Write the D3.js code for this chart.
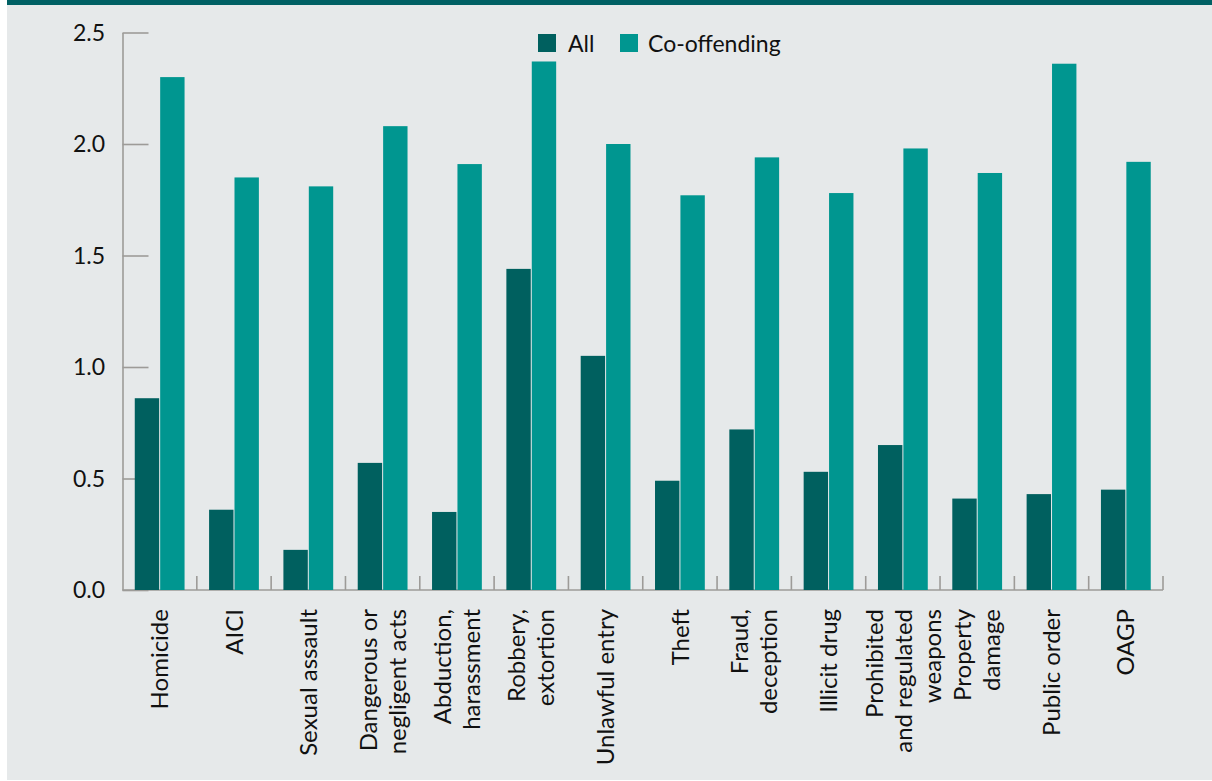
<!DOCTYPE html>
<html>
<head>
<meta charset="utf-8">
<script src="https://cdn.jsdelivr.net/npm/d3@7"></script>
<style>
  body { margin: 0; background: #ffffff; }
  text { font-family: Lato, "Open Sans", sans-serif; fill: #111; }
</style>
</head>
<body>
<div id="chart"></div>
<script>
var width = 1212;
var height = 781;

var categories = [
  ["Homicide"],
  ["AICI"],
  ["Sexual assault"],
  ["Dangerous or", "negligent acts"],
  ["Abduction,", "harassment"],
  ["Robbery,", "extortion"],
  ["Unlawful entry"],
  ["Theft"],
  ["Fraud,", "deception"],
  ["Illicit drug"],
  ["Prohibited", "and regulated", "weapons"],
  ["Property", "damage"],
  ["Public order"],
  ["OAGP"]
];
var seriesNames = ["All", "Co-offending"];
var allValues = [0.86, 0.36, 0.18, 0.57, 0.35, 1.44, 1.05, 0.49, 0.72, 0.53, 0.65, 0.41, 0.43, 0.45];
var coValues = [2.30, 1.85, 1.81, 2.08, 1.91, 2.37, 2.00, 1.77, 1.94, 1.78, 1.98, 1.87, 2.36, 1.92];
var yTicks = [0, 0.5, 1.0, 1.5, 2.0, 2.5];

var colors = {"All": "#00605f", "Co-offending": "#009690"};

var margin = {top: 32.5, right: 49, bottom: 191, left: 122.5};

var svg = d3.select("#chart")
  .append("svg")
  .attr("width", width)
  .attr("height", height);

// panel background + top band
svg.append("rect")
  .attr("x", 7).attr("y", 0)
  .attr("width", width - 7).attr("height", 780)
  .attr("fill", "#e6e9ea");
svg.append("rect")
  .attr("x", 7).attr("y", 0)
  .attr("width", width - 7).attr("height", 5)
  .attr("fill", "#006064");

var keys = categories.map(function(c) { return c.join(" "); });

var x0 = d3.scaleBand()
  .domain(keys)
  .range([margin.left, width - margin.right])
  .paddingInner(0.33)
  .paddingOuter(0.165);

var x1 = d3.scaleBand()
  .domain(seriesNames)
  .range([0, x0.bandwidth()])
  .paddingInner(0.04);

var yScale = d3.scaleLinear()
  .domain([0, 2.5])
  .range([height - margin.bottom, margin.top]);

var axisColor = "#9d9b98";

// y axis: ticks pointing inward, drawn under the bars
var yAxis = svg.append("g")
  .attr("transform", `translate(${margin.left},0)`)
  .call(d3.axisRight(yScale).tickValues(yTicks).tickSize(26).tickSizeOuter(0).tickFormat(""));
yAxis.select(".domain").attr("stroke", axisColor).attr("stroke-width", 1.6);
yAxis.selectAll(".tick line").attr("stroke", axisColor).attr("stroke-width", 1.6);

svg.append("g").selectAll("text")
  .data(yTicks)
  .enter()
  .append("text")
    .attr("x", 105)
    .attr("y", function(d) { return yScale(d); })
    .attr("dy", "0.36em")
    .attr("text-anchor", "end")
    .style("font-size", "23px")
    .text(function(d) { return d3.format(".1f")(d); });

// x axis line and category divider ticks
var step = x0.step();
var x0start = x0.range()[0];
var dividers = d3.range(1, categories.length + 1).map(function(i) { return x0start + i * step; });

svg.append("line")
  .attr("x1", margin.left).attr("x2", x0.range()[1])
  .attr("y1", yScale(0)).attr("y2", yScale(0))
  .attr("stroke", axisColor).attr("stroke-width", 1.6);

svg.append("g").selectAll("line")
  .data(dividers)
  .enter()
  .append("line")
    .attr("x1", function(d) { return d; })
    .attr("x2", function(d) { return d; })
    .attr("y1", yScale(0))
    .attr("y2", yScale(0) - 14)
    .attr("stroke", axisColor)
    .attr("stroke-width", 1.6);

// bars
var groups = svg.append("g").selectAll("g")
  .data(keys)
  .enter()
  .append("g")
    .attr("transform", function(d) { return `translate(${x0(d)},0)`; });

groups.selectAll("rect")
  .data(function(d, i) {
    return [
      {series: "All", value: allValues[i]},
      {series: "Co-offending", value: coValues[i]}
    ];
  })
  .enter()
  .append("rect")
    .attr("x", function(d) { return x1(d.series); })
    .attr("y", function(d) { return yScale(d.value); })
    .attr("width", x1.bandwidth())
    .attr("height", function(d) { return yScale(0) - yScale(d.value); })
    .attr("fill", function(d) { return colors[d.series]; });

// category labels, rotated
var lineGap = 29;
var labels = svg.append("g").selectAll("text")
  .data(categories)
  .enter()
  .append("text")
    .attr("transform", function(d, i) {
      return `translate(${x0(keys[i]) + x0.bandwidth() / 2},609) rotate(-90)`;
    })
    .attr("text-anchor", "end")
    .style("font-size", "24px");

labels.selectAll("tspan")
  .data(function(d) { return d; })
  .enter()
  .append("tspan")
    .attr("x", 0)
    .attr("y", function(d, j, nodes) {
      var n = nodes.length;
      return (j - (n - 1) / 2) * lineGap;
    })
    .attr("dy", "0.36em")
    .text(function(d) { return d; });

// legend
var legendPos = [{name: "All", x: 538, tx: 568}, {name: "Co-offending", x: 620, tx: 648}];
var legend = svg.append("g").selectAll("g")
  .data(legendPos)
  .enter()
  .append("g");
legend.append("rect")
  .attr("x", function(d) { return d.x; })
  .attr("y", 34)
  .attr("width", 18)
  .attr("height", 18)
  .attr("fill", function(d) { return colors[d.name]; });
legend.append("text")
  .attr("x", function(d) { return d.tx; })
  .attr("y", 52)
  .style("font-size", "23px")
  .text(function(d) { return d.name; });
</script>
</body>
</html>
